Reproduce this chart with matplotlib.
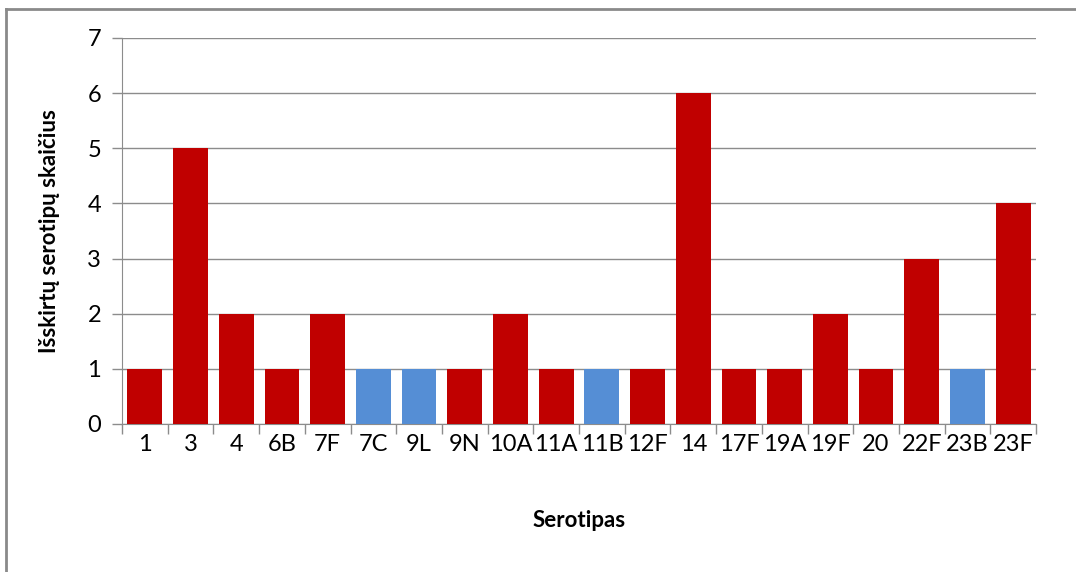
import numpy as np
import matplotlib
matplotlib.use("Agg")
import matplotlib.pyplot as plt
from matplotlib.lines import Line2D

serotypes = ["1", "3", "4", "6B", "7F", "7C", "9L", "9N", "10A", "11A", "11B",
             "12F", "14", "17F", "19A", "19F", "20", "22F", "23B", "23F"]
counts = [1, 5, 2, 1, 2, 1, 1, 1, 2, 1, 1, 1, 6, 1, 1, 2, 1, 3, 1, 4]
blue_types = ["7C", "9L", "11B", "23B"]

RED = "#C00000"
BLUE = "#558ED5"
GRID = "#8c8c8c"

plt.rcParams["font.family"] = ["Lato", "DejaVu Sans"]

fig = plt.figure(figsize=(10.76, 5.72), dpi=100)
ax = fig.add_axes([122 / 1076, 1 - 424 / 572, (1036 - 122) / 1076, (424 - 38) / 572])

x = np.arange(len(serotypes))
colors = [BLUE if s in blue_types else RED for s in serotypes]
ax.bar(x, counts, width=0.76, color=colors, zorder=3)

ax.set_xlim(-0.5, len(serotypes) - 0.5)
ax.set_ylim(0, 7)
ax.set_yticks(range(8))
ax.yaxis.grid(True, color=GRID, lw=1, zorder=0)

# category labels centred, tick marks on category boundaries
ax.set_xticks(x)
ax.set_xticklabels(serotypes, fontsize=17)
ax.tick_params(axis="x", length=0, pad=7)
ax.set_xticks(np.arange(-0.5, len(serotypes)), minor=True)
ax.tick_params(axis="x", which="minor", length=7, color=GRID, width=1)
ax.tick_params(axis="y", length=7, color=GRID, width=1, pad=8, labelsize=17)

for s in ["top", "right"]:
    ax.spines[s].set_visible(False)
for s in ["bottom", "left"]:
    ax.spines[s].set_color(GRID)

ax.set_xlabel("Serotipas", fontsize=16, fontweight="bold", labelpad=40)
ax.set_ylabel("Išskirtų serotipų skaičius", fontsize=16, fontweight="bold", labelpad=20)

# chart area border (only top and left visible in the crop)
bx, by = 6 / 1076, 1 - 9 / 572
fig.add_artist(Line2D([bx, bx], [0, by], color="#8a8a8a", lw=2, transform=fig.transFigure))
fig.add_artist(Line2D([bx, 1], [by, by], color="#8a8a8a", lw=2, transform=fig.transFigure))

plt.savefig("out.png", dpi=100)
plt.close()
